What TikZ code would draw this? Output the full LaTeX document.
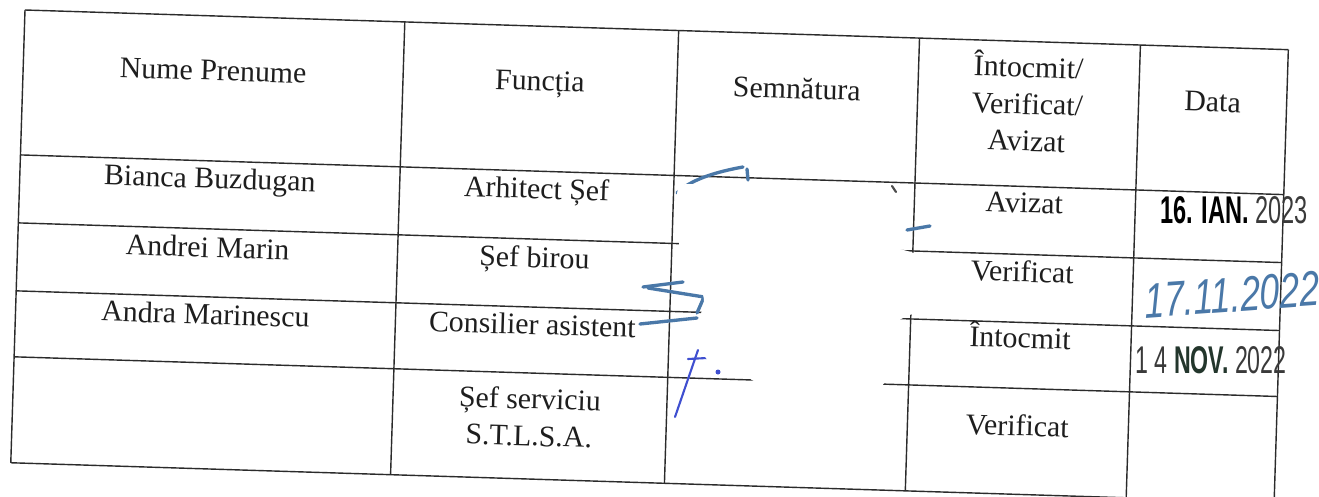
\documentclass[tikz,border=0pt]{standalone}
\usepackage{fontspec}
\setmainfont{Liberation Serif}
\newfontfamily\stampfont{Liberation Sans}
\usetikzlibrary{positioning}
\definecolor{rule}{HTML}{2B2B2B}
\definecolor{ink}{HTML}{1E1E1E}
\definecolor{pen}{HTML}{4A78A8}
\definecolor{penviolet}{HTML}{3F4FD0}
\definecolor{stampgray}{HTML}{3A3A3A}
\definecolor{stampdark}{HTML}{23362C}

\begin{document}
\begin{tikzpicture}[x=0.02cm, y=0.02cm,
    block/.style={font=\fontsize{17}{21}\selectfont, text=ink, align=center, inner sep=0pt, transform shape},
    cell/.style={block, text height=0.7em, text depth=0.2em},
    tabline/.style={draw=rule, line width=0.8pt},
    penline/.style={draw=pen, line width=1.9pt, line cap=round, line join=round},
    stampdate/.style={font=\stampfont\bfseries\fontsize{22}{22}\selectfont, inner sep=0pt, transform shape}]
\fill[white] (0,0) rectangle (1319,-497);
\useasboundingbox (0,0) rectangle (1319,-497);

% the scanned table, slightly turned
\begin{scope}[shift={(25,-10)}, rotate=-1.8]
\foreach \u in {0,380,654,895,1116,1264} \draw[tabline] (\u,0) -- (\u,-453);
\foreach \d in {0,145,213,281,347,453} \draw[tabline] (0,-\d) -- (1264,-\d);
% header
\node[cell] (hname) at (190,-60) {Nume Prenume};
\node[cell] (hfunc) at (517,-60) {Funcția};
\node[cell] (hsign) at (774,-60) {Semnătura};
\node[block] (hrole) at (1005,-60) {Întocmit/\\Verificat/\\Avizat};
\node[cell] (hdate) at (1190,-60) {Data};
% rows
\node[cell] (name1) at (190,-168) {Bianca Buzdugan};
\node[cell] (func1) at (517,-168) {Arhitect Șef};
\node[cell] (role1) at (1005,-167) {Avizat};
\node[cell] (name2) at (190,-237) {Andrei Marin};
\node[cell] (func2) at (517,-237) {Șef birou};
\node[cell] (role2) at (1005,-236) {Verificat};
\node[cell] (name3) at (190,-304) {Andra Marinescu};
\node[cell] (func3) at (517,-304) {Consilier asistent};
\node[cell] (role3) at (1005,-302) {Întocmit};
\node[block] (func4) at (517,-391) {Șef serviciu\\S.T.L.S.A.};
\node[cell] (role4) at (1005,-390) {Verificat};
\end{scope}

% signature strokes
\draw[penline] (677,-193) .. controls (690,-180) and (715,-172) .. (743,-167);
\draw[penline] (747,-169) -- (748,-180);
\draw[penline, draw=black!70, line width=1.2pt] (892,-186) -- (896,-192);
\draw[penline] (907,-230) -- (930,-226);
\draw[penline] (643,-287) -- (683,-282);
\draw[penline] (648,-288) -- (704,-297) -- (697,-313);
\draw[penline] (640,-324) -- (697,-318);
\draw[penline, draw=penviolet, line width=1.2pt] (698,-350) -- (675,-417);
\draw[penline, draw=penviolet, line width=1.2pt] (688,-359) -- (707,-358);
\fill[penviolet] (718,-372) circle (2.5);

% blanked signature
\fill[white, rounded corners=5pt] (677,-184) -- (893,-184) -- (892,-247) -- (915,-253) -- (935,-262)
  -- (935,-308) -- (905,-316) -- (885,-330) -- (885,-388) -- (770,-392) -- (748,-377)
  -- (706,-362) -- (697,-330) -- (700,-316) -- (706,-298) -- (683,-262) -- (678,-240) -- cycle;

% dates
\node[stampdate, xscale=0.61] (date1) at (1234,-210) {16. IAN. \textcolor{stampgray}{\mdseries 2023}};
\node[font=\stampfont\itshape\fontsize{28}{28}\selectfont, text=pen, inner sep=0pt,
  xscale=0.72, rotate=3, transform shape] (date2) at (1232,-295) {17.11.2022};
\node[stampdate, xscale=0.6, text=stampdark] (date3) at (1211,-360)
  {\textcolor{stampgray}{\mdseries 1 4} NOV. \textcolor{stampgray}{\mdseries 2022}};
\end{tikzpicture}
\end{document}
